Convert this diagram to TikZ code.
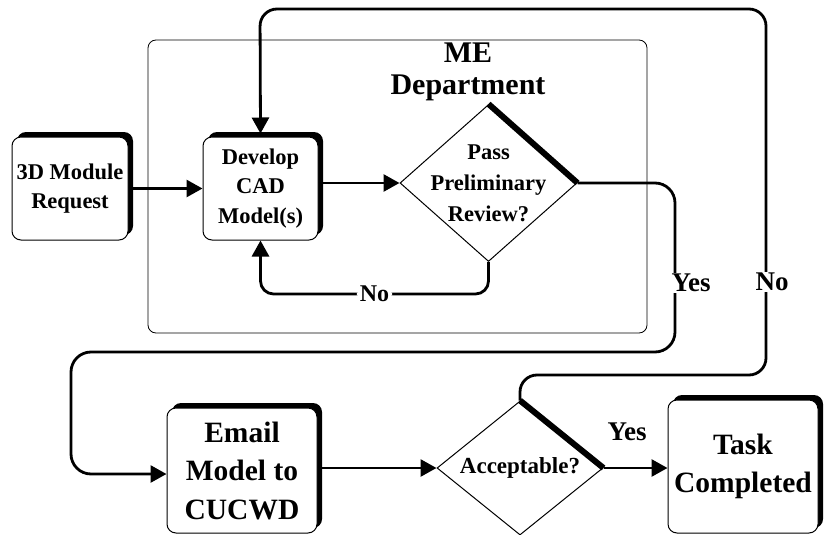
\documentclass[tikz,border=0pt]{standalone}
\usepackage{fontspec}
\setmainfont{Liberation Serif}
\usetikzlibrary{shapes.geometric,arrows.meta,shadows}
\begin{document}
\begin{tikzpicture}[x=1pt,y=-1pt,
  conn/.style={line width=2.8pt, rounded corners=20pt},
  arr/.style={conn, -{Triangle[length=16pt,width=17pt]}},
  procbox/.style={draw, line width=1pt, rounded corners=9pt, fill=white, align=center, inner sep=0pt,
    font=\bfseries\fontsize{22.5}{29.5}\selectfont,
    general shadow={fill=black, shadow xshift=5pt, shadow yshift=5pt}},
  bigbox/.style={procbox, font=\bfseries\fontsize{29.5}{38.5}\selectfont},
  decision/.style={draw, diamond, line width=1pt, inner sep=0pt, fill=white},
  dtext/.style={align=center, inner sep=0pt, font=\bfseries\fontsize{22.5}{31}\selectfont},
  lab/.style={fill=white, inner sep=1pt, font=\bfseries\fontsize{27}{30}\selectfont},
  smalllab/.style={fill=white, inner sep=3pt, font=\bfseries\fontsize{24}{28}\selectfont},
]
\useasboundingbox (0,0) rectangle (824,535);

% container
\node[draw, line width=0.8pt, rounded corners=8pt, minimum width=499pt, minimum height=293pt, inner sep=0pt] (dept) at (397.5,186.5) {};
\node[align=center, inner sep=0pt, font=\bfseries\fontsize{30}{32}\selectfont] (title) at (468,72) {ME\\Department};

% process boxes
\node[procbox, minimum width=116pt, minimum height=103pt] (req) at (70,188.5) {3D Module\\Request};
\node[procbox, minimum width=115pt, minimum height=103pt] (dev) at (260.5,188.5) {Develop\\CAD\\Model(s)};
\node[bigbox, minimum width=150pt, minimum height=125pt] (email) at (242,470.5) {Email\\Model to\\CUCWD};
\node[bigbox, minimum width=150pt, minimum height=133pt] (task) at (743,466.5) {Task\\Completed};

% decisions
\node[decision, minimum width=177pt, minimum height=157pt] (d1) at (488.5,183) {};
\draw[line width=6pt] (d1.north) -- (d1.east);
\node[dtext] (d1t) at (d1) {Pass\\Preliminary\\Review?};

\node[decision, minimum width=166pt, minimum height=134pt] (d2) at (520,468) {};
\draw[line width=6pt] (d2.north) -- (d2.east);
\node[dtext, font=\bfseries\fontsize{23}{28}\selectfont] (d2t) at (d2) {Acceptable?};

% connectors
\draw[arr] (req.east) -- (dev.west);
\draw[arr] (dev.east |- d1.west) -- (d1.west);
\draw[arr, rounded corners=13pt] (d1.south) -- ++(0,32) -| node[smalllab, pos=0.25] {No} (dev.south);

\draw[arr] (d1.east) -| (675,352) -| (71,474) -- ([yshift=-3.5pt]email.west);
\node[lab] (yes1) at (691,283) {Yes};

\draw[arr] (email.east |- d2.west) -- (d2.west);
\draw[arr] (d2.east) -- node[lab, fill=none, pos=0.37, yshift=36pt] {Yes} (task.west |- d2.east);

\draw[arr, rounded corners=17pt] (d2.north) |- (766,375) |- (260,9) -- ([yshift=3pt]dev.north);
\node[lab] (no2) at (772,282) {No};
\end{tikzpicture}
\end{document}
